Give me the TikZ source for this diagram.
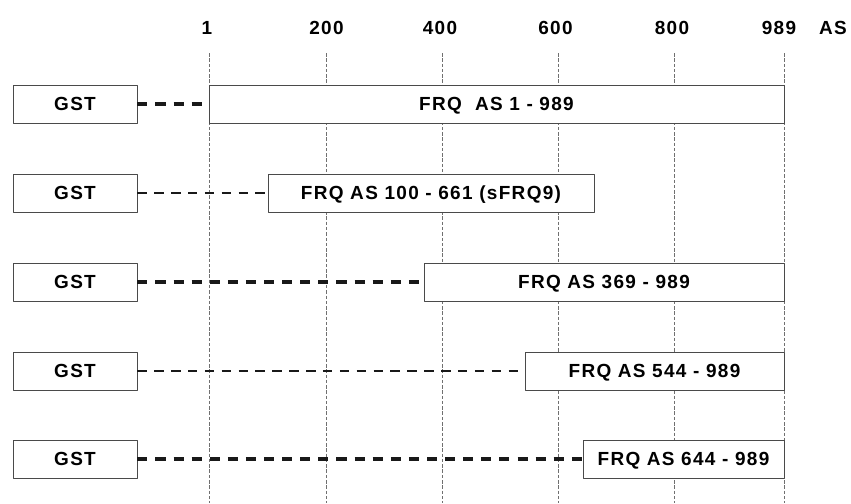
\documentclass[tikz,border=0pt]{standalone}
\usepackage{fontspec}
\setmainfont{Liberation Sans}[LetterSpace=7]
\usepackage{tikz}
\usetikzlibrary{arrows.meta}
\definecolor{boxline}{HTML}{4A4A4A}
\definecolor{guideline}{HTML}{707070}
\tikzset{
  every picture/.style={font=\fontsize{10.8}{13}\selectfont\bfseries, line join=round},
  every node/.style={text height=7.7pt, text depth=0pt},
  gstbox/.style={draw=boxline, line width=0.45pt, fill=white, inner sep=0pt,
    minimum width=2.48cm, minimum height=0.76cm},
  frqbox/.style={draw=boxline, line width=0.45pt, fill=white, inner sep=0pt,
    minimum height=0.76cm},
  guide/.style={guideline, line width=0.4pt, dash pattern=on 2pt off 1pt},
  linker/.style={line width=1.85pt, dash pattern=on 5.7pt off 4.6pt, black!90},
  thin linker/.style={line width=1.1pt, dash pattern=on 5.4pt off 4.2pt, black!90},
}

\begin{document}
\begin{tikzpicture}
\useasboundingbox (0,0) rectangle (17.02,10.06);
% position scale
\node (t1) at (4.14,9.51) {1};
\node (t200) at (6.53,9.51) {200};
\node (t400) at (8.80,9.51) {400};
\node (t600) at (11.11,9.51) {600};
\node (t800) at (13.44,9.51) {800};
\node (t989) at (15.58,9.51) {989};
\node (tAS) at (16.66,9.51) {AS};
\draw[guide] (4.18,9.0) -- (4.18,0);
\draw[guide] (6.53,9.0) -- (6.53,0);
\draw[guide] (8.84,9.0) -- (8.84,0);
\draw[guide] (11.16,9.0) -- (11.16,0);
\draw[guide] (13.48,9.0) -- (13.48,0);
\draw[guide] (15.68,9.0) -- (15.68,0);
% constructs
\node[gstbox] (gst1) at (1.5,7.98) {GST};
\node[frqbox, minimum width=11.5cm] (frq1) at (9.93,7.98) {FRQ\ \ AS 1 - 989};
\node[gstbox] (gst2) at (1.5,6.2) {GST};
\node[frqbox, minimum width=6.52cm] (frq2) at (8.62,6.2) {FRQ AS 100 - 661 (sFRQ9)};
\node[gstbox] (gst3) at (1.5,4.42) {GST};
\node[frqbox, minimum width=7.2cm] (frq3) at (12.08,4.42) {FRQ AS 369 - 989};
\node[gstbox] (gst4) at (1.5,2.64) {GST};
\node[frqbox, minimum width=5.18cm] (frq4) at (13.09,2.64) {FRQ AS 544 - 989};
\node[gstbox] (gst5) at (1.5,0.88) {GST};
\node[frqbox, minimum width=4.02cm] (frq5) at (13.67,0.88) {FRQ AS 644 - 989};
\draw[linker] (gst1) -- (frq1);
\draw[thin linker] (gst2) -- (frq2);
\draw[linker] (gst3) -- (frq3);
\draw[thin linker] (gst4) -- (frq4);
\draw[linker] (gst5) -- (frq5);
\end{tikzpicture}
\end{document}
